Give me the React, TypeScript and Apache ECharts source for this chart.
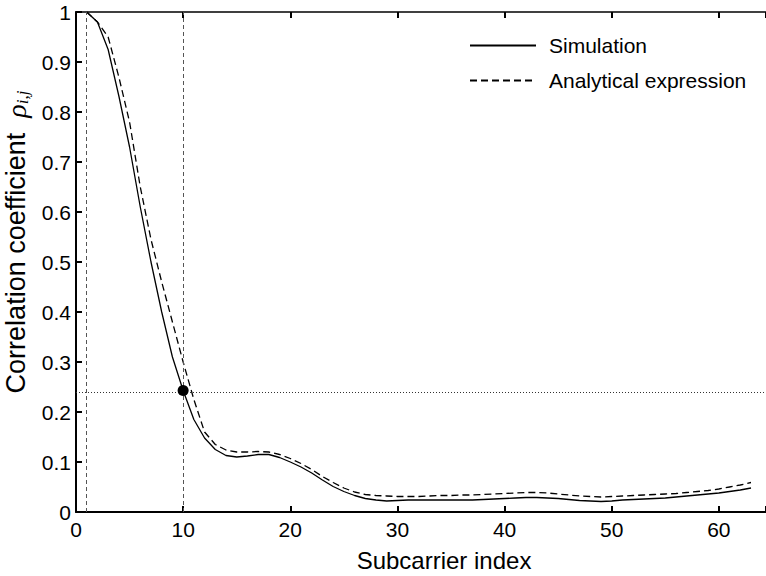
import React, { useEffect, useRef } from "react";
import * as echarts from "echarts";

const subcarriers: number[] = Array.from({ length: 63 }, (_, i) => i + 1);

const simulation: number[] = [
  1.0, 0.98, 0.925, 0.832, 0.73, 0.61, 0.5, 0.4, 0.31, 0.243,
  0.185, 0.148, 0.125, 0.113, 0.11, 0.112, 0.115, 0.115, 0.109, 0.1,
  0.09, 0.078, 0.064, 0.051, 0.041, 0.033, 0.027, 0.024, 0.022, 0.023,
  0.024, 0.024, 0.024, 0.024, 0.024, 0.024, 0.024, 0.025, 0.026, 0.027,
  0.028, 0.029, 0.029, 0.028, 0.027, 0.025, 0.023, 0.022, 0.021, 0.022,
  0.024, 0.025, 0.026, 0.027, 0.028, 0.03, 0.032, 0.034, 0.036, 0.038,
  0.041, 0.044, 0.048,
];

const analytical: number[] = [
  1.0, 0.98, 0.95, 0.87, 0.78, 0.65, 0.545, 0.46, 0.38, 0.3,
  0.225, 0.16, 0.135, 0.124, 0.12, 0.12, 0.121, 0.12, 0.115, 0.107,
  0.097, 0.085, 0.071, 0.059, 0.048, 0.04, 0.035, 0.033, 0.032, 0.031,
  0.031, 0.031, 0.032, 0.033, 0.033, 0.034, 0.034, 0.035, 0.036, 0.037,
  0.038, 0.039, 0.039, 0.038, 0.036, 0.034, 0.032, 0.031, 0.03, 0.031,
  0.032, 0.033, 0.034, 0.035, 0.036, 0.037, 0.039, 0.041, 0.043, 0.046,
  0.05, 0.054, 0.059,
];

const markerPoint: [number, number] = [10, 0.243];
const verticalMarks: number[] = [1, 10];
const horizontalMark = 0.243;

const seriesNames = ["Simulation", "Analytical expression"];

const X_MIN = 0;
const X_MAX = 64.4;
const X_INTERVAL = 10;

export default function App() {
  const ref = useRef<HTMLDivElement>(null);

  useEffect(() => {
    if (!ref.current) return;
    const chart = echarts.init(ref.current, undefined, { renderer: "svg" });
    const font = "'Liberation Sans', Arial, Helvetica, sans-serif";
    const xAxisCommon = {
      type: "value" as const,
      min: X_MIN,
      max: X_MAX,
      interval: X_INTERVAL,
      splitLine: { show: false },
    };
    const option: any = {
      animation: false,
      backgroundColor: "#ffffff",
      textStyle: { fontFamily: font, color: "#000" },
      grid: {
        left: 76,
        right: 0,
        top: 12,
        bottom: 64,
        containLabel: false,
        outerBoundsMode: "none",
      },
      legend: {
        data: seriesNames,
        orient: "vertical",
        left: 464,
        top: 30,
        itemWidth: 66,
        itemHeight: 20,
        itemGap: 14,
        itemStyle: { opacity: 0 },
        textStyle: { fontSize: 21, color: "#000", fontFamily: font, padding: [0, 0, 0, 8] },
      },
      xAxis: [
        {
          ...xAxisCommon,
          position: "bottom",
          axisLine: { show: true, lineStyle: { color: "#000", width: 2 } },
          axisTick: { show: true, inside: true, length: 6, lineStyle: { color: "#000", width: 2 } },
          axisLabel: {
            fontSize: 21,
            color: "#000",
            margin: 7,
            fontFamily: font,
            formatter: (v: number) => (Math.abs(v % 10) < 1e-9 ? String(v) : ""),
          },
          name: "Subcarrier index",
          nameLocation: "middle",
          nameGap: 36,
          nameTextStyle: { fontSize: 24, color: "#000", fontFamily: font, padding: [0, 0, 0, 46] },
        },
        {
          ...xAxisCommon,
          position: "top",
          axisLine: { show: true, lineStyle: { color: "#000", width: 1.5 } },
          axisTick: { show: true, inside: true, length: 6, lineStyle: { color: "#000", width: 2 } },
          axisLabel: { show: false },
        },
      ],
      yAxis: [
        {
          type: "value",
          min: 0,
          max: 1,
          interval: 0.1,
          splitLine: { show: false },
          axisLine: { show: true, lineStyle: { color: "#000", width: 2 } },
          axisTick: { show: true, inside: true, length: 6, lineStyle: { color: "#000", width: 2 } },
          axisLabel: { fontSize: 21, color: "#000", margin: 5, fontFamily: font },
          name: "Correlation coefficient  {rho|ρ}{sub|i,j}",
          nameLocation: "middle",
          nameGap: 40,
          nameTextStyle: {
            fontSize: 27,
            color: "#000",
            fontFamily: font,
            padding: [0, 0, 0, 40],
            rich: {
              rho: { fontSize: 28, fontStyle: "italic", fontFamily: "'Liberation Serif', serif", color: "#000" },
              sub: {
                fontSize: 17,
                fontStyle: "italic",
                fontFamily: "'Liberation Serif', serif",
                color: "#000",
                padding: [12, 0, 0, 0],
              },
            },
          },
        },
      ],
      series: [
        {
          name: seriesNames[0],
          type: "line",
          xAxisIndex: 0,
          yAxisIndex: 0,
          data: subcarriers.map((x, i) => [x, simulation[i]]),
          symbol: "none",
          lineStyle: { color: "#000", width: 1.3, type: "solid" },
          itemStyle: { color: "#000" },
          z: 3,
        },
        {
          name: seriesNames[1],
          type: "line",
          xAxisIndex: 0,
          yAxisIndex: 0,
          data: subcarriers.map((x, i) => [x, analytical[i]]),
          symbol: "none",
          lineStyle: { color: "#000", width: 1.3, type: [7, 4] },
          itemStyle: { color: "#000" },
          z: 3,
        },
        {
          name: "marker",
          type: "scatter",
          xAxisIndex: 0,
          yAxisIndex: 0,
          data: [markerPoint],
          symbol: "circle",
          symbolSize: 11,
          itemStyle: { color: "#000", opacity: 1 },
          z: 5,
          markLine: {
            silent: true,
            symbol: ["none", "none"],
            label: { show: false },
            data: [
              ...verticalMarks.map((v) => ({
                xAxis: v,
                lineStyle: { color: "#555", width: 1, type: [4, 3] },
              })),
              {
                yAxis: horizontalMark,
                lineStyle: { color: "#333", width: 1, type: [1, 2] },
              },
            ],
          },
        },
      ],
    };
    chart.setOption(option);
    return () => chart.dispose();
  }, []);

  return (
    <div
      ref={ref}
      style={{ position: "absolute", left: 0, top: 0, width: 766, height: 576, background: "#fff" }}
    />
  );
}
